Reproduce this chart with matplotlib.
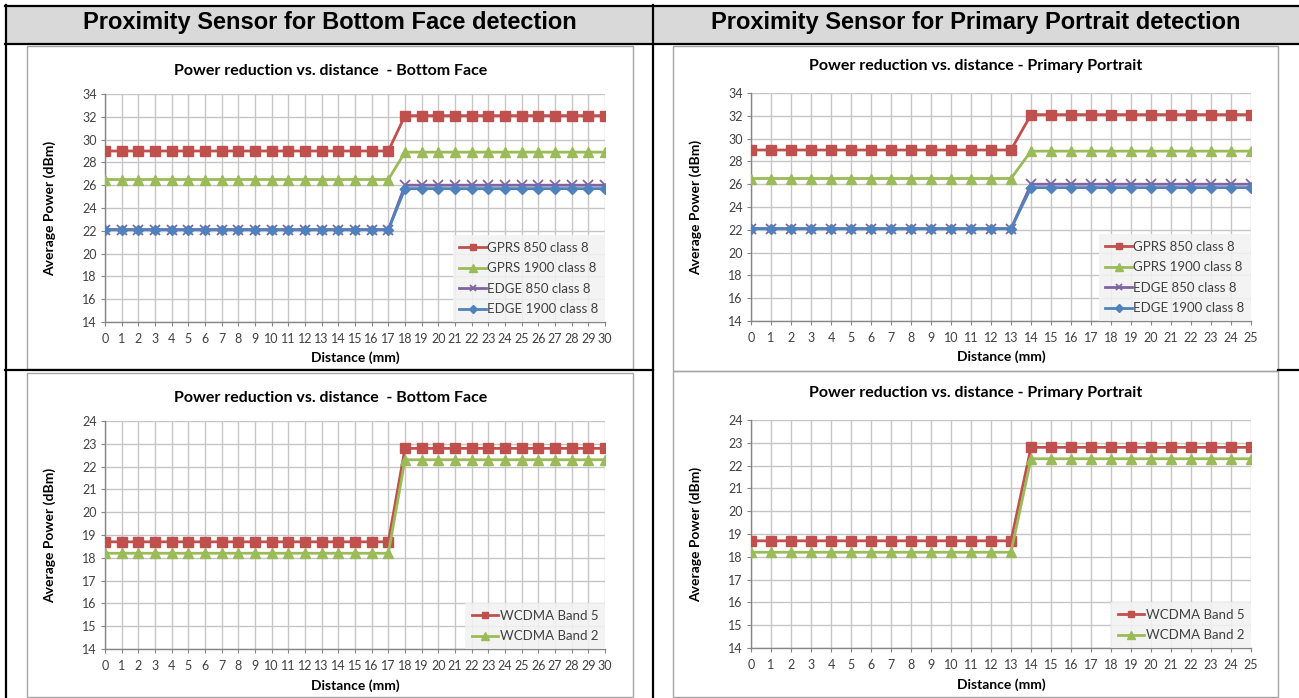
import matplotlib
matplotlib.use("Agg")
import matplotlib.pyplot as plt
from matplotlib.lines import Line2D
from matplotlib.patches import Rectangle

# ---------------- data ----------------
dist_bf = [0, 1, 2, 3, 4, 5, 6, 7, 8, 9, 10, 11, 12, 13, 14, 15, 16, 17, 18, 19, 20,
           21, 22, 23, 24, 25, 26, 27, 28, 29, 30]
dist_pp = [0, 1, 2, 3, 4, 5, 6, 7, 8, 9, 10, 11, 12, 13, 14, 15, 16, 17, 18, 19, 20,
           21, 22, 23, 24, 25]

gprs850_bf = [29.0, 29.0, 29.0, 29.0, 29.0, 29.0, 29.0, 29.0, 29.0, 29.0, 29.0, 29.0,
              29.0, 29.0, 29.0, 29.0, 29.0, 29.0, 32.1, 32.1, 32.1, 32.1, 32.1, 32.1,
              32.1, 32.1, 32.1, 32.1, 32.1, 32.1, 32.1]
gprs1900_bf = [26.5, 26.5, 26.5, 26.5, 26.5, 26.5, 26.5, 26.5, 26.5, 26.5, 26.5, 26.5,
               26.5, 26.5, 26.5, 26.5, 26.5, 26.5, 28.9, 28.9, 28.9, 28.9, 28.9, 28.9,
               28.9, 28.9, 28.9, 28.9, 28.9, 28.9, 28.9]
edge850_bf = [22.1, 22.1, 22.1, 22.1, 22.1, 22.1, 22.1, 22.1, 22.1, 22.1, 22.1, 22.1,
              22.1, 22.1, 22.1, 22.1, 22.1, 22.1, 26.0, 26.0, 26.0, 26.0, 26.0, 26.0,
              26.0, 26.0, 26.0, 26.0, 26.0, 26.0, 26.0]
edge1900_bf = [22.1, 22.1, 22.1, 22.1, 22.1, 22.1, 22.1, 22.1, 22.1, 22.1, 22.1, 22.1,
               22.1, 22.1, 22.1, 22.1, 22.1, 22.1, 25.7, 25.7, 25.7, 25.7, 25.7, 25.7,
               25.7, 25.7, 25.7, 25.7, 25.7, 25.7, 25.7]

gprs850_pp = [29.0, 29.0, 29.0, 29.0, 29.0, 29.0, 29.0, 29.0, 29.0, 29.0, 29.0, 29.0,
              29.0, 29.0, 32.1, 32.1, 32.1, 32.1, 32.1, 32.1, 32.1, 32.1, 32.1, 32.1,
              32.1, 32.1]
gprs1900_pp = [26.5, 26.5, 26.5, 26.5, 26.5, 26.5, 26.5, 26.5, 26.5, 26.5, 26.5, 26.5,
               26.5, 26.5, 28.9, 28.9, 28.9, 28.9, 28.9, 28.9, 28.9, 28.9, 28.9, 28.9,
               28.9, 28.9]
edge850_pp = [22.1, 22.1, 22.1, 22.1, 22.1, 22.1, 22.1, 22.1, 22.1, 22.1, 22.1, 22.1,
              22.1, 22.1, 26.0, 26.0, 26.0, 26.0, 26.0, 26.0, 26.0, 26.0, 26.0, 26.0,
              26.0, 26.0]
edge1900_pp = [22.1, 22.1, 22.1, 22.1, 22.1, 22.1, 22.1, 22.1, 22.1, 22.1, 22.1, 22.1,
               22.1, 22.1, 25.7, 25.7, 25.7, 25.7, 25.7, 25.7, 25.7, 25.7, 25.7, 25.7,
               25.7, 25.7]

wcdma5_bf = [18.7, 18.7, 18.7, 18.7, 18.7, 18.7, 18.7, 18.7, 18.7, 18.7, 18.7, 18.7,
             18.7, 18.7, 18.7, 18.7, 18.7, 18.7, 22.8, 22.8, 22.8, 22.8, 22.8, 22.8,
             22.8, 22.8, 22.8, 22.8, 22.8, 22.8, 22.8]
wcdma2_bf = [18.2, 18.2, 18.2, 18.2, 18.2, 18.2, 18.2, 18.2, 18.2, 18.2, 18.2, 18.2,
             18.2, 18.2, 18.2, 18.2, 18.2, 18.2, 22.3, 22.3, 22.3, 22.3, 22.3, 22.3,
             22.3, 22.3, 22.3, 22.3, 22.3, 22.3, 22.3]
wcdma5_pp = [18.7, 18.7, 18.7, 18.7, 18.7, 18.7, 18.7, 18.7, 18.7, 18.7, 18.7, 18.7,
             18.7, 18.7, 22.8, 22.8, 22.8, 22.8, 22.8, 22.8, 22.8, 22.8, 22.8, 22.8,
             22.8, 22.8]
wcdma2_pp = [18.2, 18.2, 18.2, 18.2, 18.2, 18.2, 18.2, 18.2, 18.2, 18.2, 18.2, 18.2,
             18.2, 18.2, 22.3, 22.3, 22.3, 22.3, 22.3, 22.3, 22.3, 22.3, 22.3, 22.3,
             22.3, 22.3]

gsm_labels = ["GPRS 850 class 8", "GPRS 1900 class 8", "EDGE 850 class 8", "EDGE 1900 class 8"]
wcdma_labels = ["WCDMA Band 5", "WCDMA Band 2"]
header_labels = ["Proximity Sensor for Bottom Face detection",
                 "Proximity Sensor for Primary Portrait detection"]
chart_titles = ["Power reduction vs. distance  - Bottom Face",
                "Power reduction vs. distance - Primary Portrait"]

# ---------------- styles ----------------
W, H = 1299, 698
RED, GREEN, PURPLE, BLUE = "#C0504D", "#9BBB59", "#8064A2", "#4F81BD"
GRID = "#C6C6C6"
AXC = "#868686"
CH_FONT = ["Lato", "DejaVu Sans"]

fig = plt.figure(figsize=(W / 100, H / 100), dpi=100)
fig.patch.set_facecolor("white")


def fx(x):
    return x / W


def fy(y):
    return 1 - y / H


def hline(x0, x1, y, color="black", lw=1.6, z=5):
    fig.add_artist(Line2D([fx(x0), fx(x1)], [fy(y), fy(y)], color=color, lw=lw,
                          transform=fig.transFigure, zorder=z))


def vline(x, y0, y1, color="black", lw=1.6, z=5):
    fig.add_artist(Line2D([fx(x), fx(x)], [fy(y0), fy(y1)], color=color, lw=lw,
                          transform=fig.transFigure, zorder=z))


def frame(x0, y0, x1, y1):
    fig.add_artist(Rectangle((fx(x0), fy(y1)), fx(x1) - fx(x0), fy(y0) - fy(y1),
                             transform=fig.transFigure, facecolor="none",
                             edgecolor="#A6A6A6", lw=1.0, zorder=4))


# header fill
fig.add_artist(Rectangle((fx(6), fy(44)), fx(1299) - fx(6), fy(6) - fy(44),
                         transform=fig.transFigure, facecolor="#D9D9D9",
                         edgecolor="none", zorder=1))

# chart frames
frame(27, 46, 633, 369)
frame(673, 46, 1278, 371)
frame(27, 373, 633, 697)
frame(673, 371, 1278, 697)

# table lines
hline(5, 1299, 6)
hline(5, 1299, 44)
vline(6, 5, 698)
vline(653, 5, 698)
hline(5, 653, 370)
hline(1278, 1299, 370)

fig.text(fx(330), fy(23), header_labels[0], ha="center", va="center",
         fontsize=17, fontweight="bold", family=["Liberation Sans", "DejaVu Sans"])
fig.text(fx(976), fy(23), header_labels[1], ha="center", va="center",
         fontsize=17, fontweight="bold", family=["Liberation Sans", "DejaVu Sans"])


def make_axes(px0, py_top, px1, py_bot):
    return fig.add_axes([fx(px0), fy(py_bot), fx(px1) - fx(px0), fy(py_top) - fy(py_bot)])


def style_axes(ax, xvals, ylo, yhi, ystep, xlab_y):
    ax.set_xlim(xvals[0], xvals[-1])
    ax.set_ylim(ylo, yhi)
    ax.set_xticks(xvals)
    ax.set_yticks(list(range(ylo, yhi + 1, ystep)))
    ax.grid(True, color=GRID, lw=1.0, zorder=0)
    ax.set_axisbelow(True)
    for s in ["top", "right"]:
        ax.spines[s].set_visible(False)
    for s in ["left", "bottom"]:
        ax.spines[s].set_color(AXC)
        ax.spines[s].set_linewidth(1.0)
    ax.tick_params(axis="both", direction="out", length=3, width=0.8, color=AXC,
                   labelsize=9, labelcolor="#404040", pad=3)
    ax.tick_params(axis="x", pad=5)
    for lab in ax.get_xticklabels() + ax.get_yticklabels():
        lab.set_family(CH_FONT)
    ax.set_ylabel("Average Power (dBm)", fontsize=10, fontweight="bold",
                  family=CH_FONT, va="center")
    ax.set_xlabel("Distance (mm)", fontsize=10, fontweight="bold",
                  family=CH_FONT, va="center")
    ax.yaxis.set_label_coords(-55 / 500, 0.5)
    ax.xaxis.set_label_coords(0.5, xlab_y)


def legend(ax):
    leg = ax.legend(loc="lower right", bbox_to_anchor=(1.0, 0.0), frameon=True,
                    handlelength=2.0, handletextpad=0.1, markerscale=0.75,
                    labelspacing=0.65, borderaxespad=0.0, borderpad=0.5,
                    prop={"family": CH_FONT, "size": 9.5})
    leg.get_frame().set_facecolor("#F2F2F2")
    leg.get_frame().set_edgecolor("none")
    leg.get_frame().set_alpha(0.85)
    leg.get_frame().set_boxstyle("square", pad=0)
    for t in leg.get_texts():
        t.set_color("#404040")


def gsm_chart(ax, x, g850, g1900, e850, e1900):
    ax.plot(x, g850, color=RED, lw=2.0, marker="s", ms=6.5, label=gsm_labels[0], zorder=3)
    ax.plot(x, g1900, color=GREEN, lw=2.0, marker="^", ms=7, label=gsm_labels[1], zorder=3)
    ax.plot(x, e850, color=PURPLE, lw=2.0, marker="x", ms=6.5, mew=1.3,
            label=gsm_labels[2], zorder=3)
    ax.plot(x, e1900, color=BLUE, lw=2.0, marker="D", ms=5, label=gsm_labels[3], zorder=3)
    style_axes(ax, x, 14, 34, 2, -36 / 228)
    legend(ax)


def wcdma_chart(ax, x, w5, w2):
    ax.plot(x, w5, color=RED, lw=2.0, marker="s", ms=6.5, label=wcdma_labels[0], zorder=3)
    ax.plot(x, w2, color=GREEN, lw=2.0, marker="^", ms=7, label=wcdma_labels[1], zorder=3)
    style_axes(ax, x, 14, 24, 1, -37 / 228)
    legend(ax)


ax1 = make_axes(105, 94, 605, 322)
gsm_chart(ax1, dist_bf, gprs850_bf, gprs1900_bf, edge850_bf, edge1900_bf)
ax2 = make_axes(751, 93, 1251, 321)
gsm_chart(ax2, dist_pp, gprs850_pp, gprs1900_pp, edge850_pp, edge1900_pp)
ax3 = make_axes(105, 421, 605, 649)
wcdma_chart(ax3, dist_bf, wcdma5_bf, wcdma2_bf)
ax4 = make_axes(751, 420, 1251, 648)
wcdma_chart(ax4, dist_pp, wcdma5_pp, wcdma2_pp)

fig.text(fx(331), fy(71), chart_titles[0], ha="center", va="center", fontsize=11.5,
         fontweight="bold", family=CH_FONT)
fig.text(fx(976), fy(66), chart_titles[1], ha="center", va="center", fontsize=11.5,
         fontweight="bold", family=CH_FONT)
fig.text(fx(331), fy(398), chart_titles[0], ha="center", va="center", fontsize=11.5,
         fontweight="bold", family=CH_FONT)
fig.text(fx(976), fy(393), chart_titles[1], ha="center", va="center", fontsize=11.5,
         fontweight="bold", family=CH_FONT)

fig.savefig("out.png", dpi=100, facecolor="white")
